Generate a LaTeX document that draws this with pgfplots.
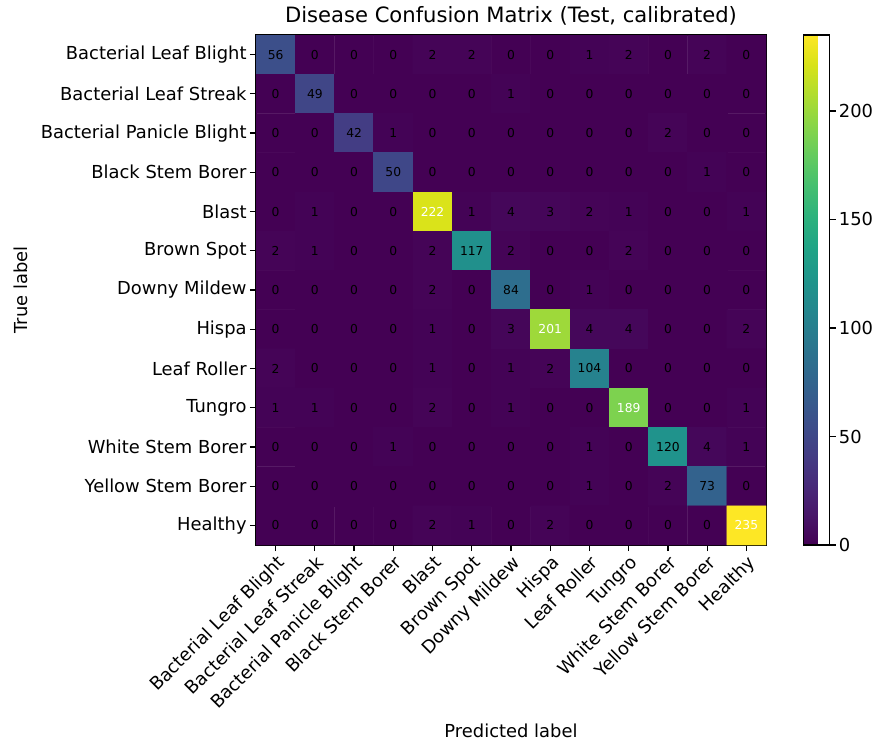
\documentclass[border=0pt]{standalone}
\usepackage{fontspec}
\setmainfont{DejaVu Sans}
\usepackage{pgfplots}
\usepackage{pgfplotstable}
\pgfplotsset{compat=1.18}

\pgfplotstableread{
x y c
0 0 56
1 0 0
2 0 0
3 0 0
4 0 2
5 0 2
6 0 0
7 0 0
8 0 1
9 0 2
10 0 0
11 0 2
12 0 0
0 1 0
1 1 49
2 1 0
3 1 0
4 1 0
5 1 0
6 1 1
7 1 0
8 1 0
9 1 0
10 1 0
11 1 0
12 1 0
0 2 0
1 2 0
2 2 42
3 2 1
4 2 0
5 2 0
6 2 0
7 2 0
8 2 0
9 2 0
10 2 2
11 2 0
12 2 0
0 3 0
1 3 0
2 3 0
3 3 50
4 3 0
5 3 0
6 3 0
7 3 0
8 3 0
9 3 0
10 3 0
11 3 1
12 3 0
0 4 0
1 4 1
2 4 0
3 4 0
4 4 222
5 4 1
6 4 4
7 4 3
8 4 2
9 4 1
10 4 0
11 4 0
12 4 1
0 5 2
1 5 1
2 5 0
3 5 0
4 5 2
5 5 117
6 5 2
7 5 0
8 5 0
9 5 2
10 5 0
11 5 0
12 5 0
0 6 0
1 6 0
2 6 0
3 6 0
4 6 2
5 6 0
6 6 84
7 6 0
8 6 1
9 6 0
10 6 0
11 6 0
12 6 0
0 7 0
1 7 0
2 7 0
3 7 0
4 7 1
5 7 0
6 7 3
7 7 201
8 7 4
9 7 4
10 7 0
11 7 0
12 7 2
0 8 2
1 8 0
2 8 0
3 8 0
4 8 1
5 8 0
6 8 1
7 8 2
8 8 104
9 8 0
10 8 0
11 8 0
12 8 0
0 9 1
1 9 1
2 9 0
3 9 0
4 9 2
5 9 0
6 9 1
7 9 0
8 9 0
9 9 189
10 9 0
11 9 0
12 9 1
0 10 0
1 10 0
2 10 0
3 10 1
4 10 0
5 10 0
6 10 0
7 10 0
8 10 1
9 10 0
10 10 120
11 10 4
12 10 1
0 11 0
1 11 0
2 11 0
3 11 0
4 11 0
5 11 0
6 11 0
7 11 0
8 11 1
9 11 0
10 11 2
11 11 73
12 11 0
0 12 0
1 12 0
2 12 0
3 12 0
4 12 2
5 12 1
6 12 0
7 12 2
8 12 0
9 12 0
10 12 0
11 12 0
12 12 235
}\cmtable

\begin{document}
\begin{tikzpicture}
\path[use as bounding box] (0,0) rectangle (877pt,742pt);
\begin{axis}[
  at={(256pt,197pt)}, anchor=south west,
  scale only axis, width=510pt, height=510pt,
  xmin=-0.5, xmax=12.5, ymin=-0.5, ymax=12.5,
  enlargelimits=false,
  y dir=reverse,
  axis line style={line width=1.2pt},
  every tick/.style={black, line width=1.2pt},
  major tick length=6.2pt,
  tick align=outside,
  xtick pos=bottom, ytick pos=left,
  xtick={0,...,12}, ytick={0,...,12},
  xticklabels={Bacterial Leaf Blight,Bacterial Leaf Streak,Bacterial Panicle Blight,Black Stem Borer,Blast,Brown Spot,Downy Mildew,Hispa,Leaf Roller,Tungro,White Stem Borer,Yellow Stem Borer,Healthy},
  yticklabels={Bacterial Leaf Blight,Bacterial Leaf Streak,Bacterial Panicle Blight,Black Stem Borer,Blast,Brown Spot,Downy Mildew,Hispa,Leaf Roller,Tungro,White Stem Borer,Yellow Stem Borer,Healthy},
  tick label style={font=\fontsize{17.9}{20}\selectfont, text=black},
  xticklabel style={rotate=45, anchor=north east, inner sep=2pt},
  yticklabel style={inner sep=3pt},
  /pgf/number format/assume math mode=true,
  title={Disease Confusion Matrix (Test, calibrated)},
  title style={at={(axis description cs:0.5,1.0137)}, anchor=base, font=\fontsize{21.1}{24}\selectfont},
  xlabel={Predicted label},
  xlabel style={at={(axis description cs:0.5,-0.3784)}, anchor=base, font=\fontsize{17.9}{20}\selectfont},
  ylabel={True label},
  ylabel style={at={(axis description cs:-0.449,0.5)}, anchor=base, rotate=0, font=\fontsize{17.9}{20}\selectfont},
  colormap/viridis,
  point meta min=0, point meta max=235,
  colorbar,
  colorbar style={
    at={(parent axis.north east)}, anchor=north west, xshift=29pt,
    width=26pt,
    ytick={0,50,100,150,200},
    ytick pos=right, yticklabel pos=right,
    tick align=outside,
    major tick length=6.2pt,
    axis line style={line width=1.2pt},
    every tick/.style={black, line width=1.2pt},
    tick label style={font=\fontsize{17.9}{20}\selectfont},
    yticklabel style={inner sep=3pt},
    /pgf/number format/assume math mode=true,
  },
]
\addplot[matrix plot*, mesh/cols=13, mesh/ordering=x varies, point meta=explicit] table[x=x, y=y, meta=c] {\cmtable};
\addplot[draw=none, mark=none, point meta=explicit symbolic,
  nodes near coords={\ifnum\pgfplotspointmeta>150 \color{white}\fi\pgfplotspointmeta},
  every node near coord/.style={anchor=center, font=\fontsize{12.3}{14}\selectfont, text=black, inner sep=0pt}
] table[x=x, y=y, meta=c] {\cmtable};
\end{axis}
\end{tikzpicture}
\end{document}
